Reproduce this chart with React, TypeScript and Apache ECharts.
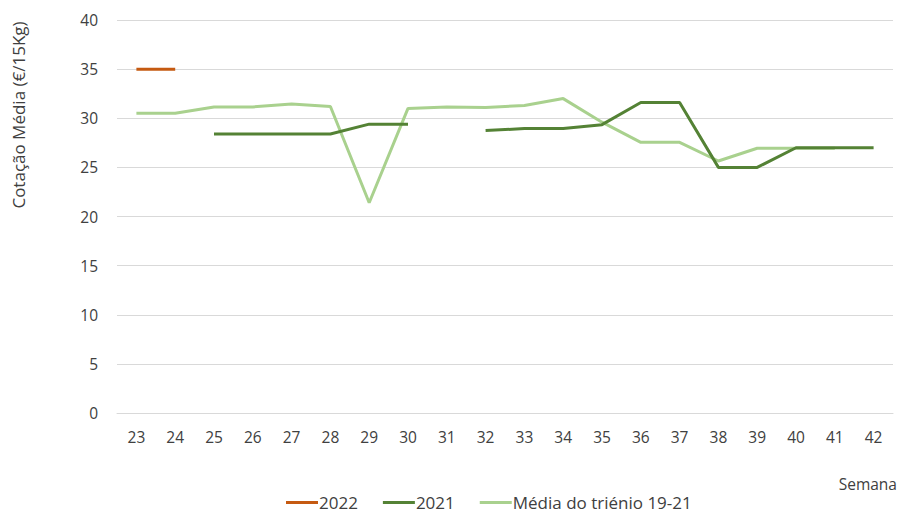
import React, { useEffect, useRef } from "react";
import * as echarts from "echarts";

const weeks = ["23","24","25","26","27","28","29","30","31","32","33","34","35","36","37","38","39","40","41","42"];
const s2022 = [35, 35, null, null, null, null, null, null, null, null, null, null, null, null, null, null, null, null, null, null];
const s2021 = [null, null, 28.4, 28.4, 28.4, 28.4, 29.4, 29.4, null, 28.75, 28.95, 28.95, 29.35, 31.6, 31.6, 25, 25, 27, 27, 27];
const sMedia = [30.5, 30.5, 31.15, 31.15, 31.45, 31.2, 21.4, 31, 31.15, 31.1, 31.3, 32, 29.6, 27.55, 27.55, 25.65, 26.95, 26.95, 26.95, null];
const seriesNames = ["2022", "2021", "Média do triénio 19-21"];
const colors = ["#C55A11", "#548235", "#A9D18E"];
const yTitle = "Cotação Média (€/15Kg)";
const xTitle = "Semana";

const FONT = "Open Sans";
const FS = 15.5;

export default function App() {
  const ref = useRef<HTMLDivElement>(null);
  useEffect(() => {
    if (!ref.current) return;
    const chart = echarts.init(ref.current, null, { renderer: "svg" });
    const data = [s2022, s2021, sMedia];
    chart.setOption({
      animation: false,
      textStyle: { fontFamily: FONT },
      grid: { left: 117, right: 6, top: 20, bottom: 100 },
      legend: {
        top: 493,
        left: 286,
        padding: 0,
        itemWidth: 32,
        itemHeight: 3,
        itemGap: 25,
        icon: "rect",
        textStyle: { fontFamily: FONT, fontSize: 17, lineHeight: 19, color: "#404040", padding: [0, 0, 0, -4] },
        data: seriesNames,
      },
      xAxis: {
        type: "category",
        data: weeks,
        boundaryGap: true,
        axisLine: { lineStyle: { color: "#d9d9d9", width: 1 } },
        axisTick: { show: false },
        axisLabel: { color: "#404040", fontSize: FS, fontFamily: FONT, margin: 16 },
        splitLine: { show: false },
      },
      yAxis: {
        type: "value",
        min: 0,
        max: 40,
        interval: 5,
        axisLine: { show: false },
        axisTick: { show: false },
        axisLabel: { color: "#404040", fontSize: FS, fontFamily: FONT, margin: 19 },
        splitLine: { lineStyle: { color: "#d9d9d9", width: 1 } },
      },
      graphic: [
        {
          type: "text",
          x: 18,
          y: 115,
          rotation: Math.PI / 2,
          style: {
            text: yTitle,
            fill: "#404040",
            font: `17px '${FONT}'`,
            textAlign: "center",
            textVerticalAlign: "middle",
          },
        },
        {
          type: "text",
          x: 897,
          y: 484,
          style: {
            text: xTitle,
            fill: "#404040",
            font: `${FS}px '${FONT}'`,
            textAlign: "right",
            textVerticalAlign: "middle",
          },
        },
      ],
      series: seriesNames.map((name, i) => ({
        name,
        type: "line",
        data: data[i],
        connectNulls: false,
        symbol: "none",
        lineStyle: { color: colors[i], width: 3 },
        itemStyle: { color: colors[i] },
        z: i === 1 ? 3 : i === 2 ? 2 : 4,
      })),
    });
    return () => chart.dispose();
  }, []);
  return <div ref={ref} style={{ width: 899, height: 513, position: "absolute", left: 0, top: 0 }} />;
}
